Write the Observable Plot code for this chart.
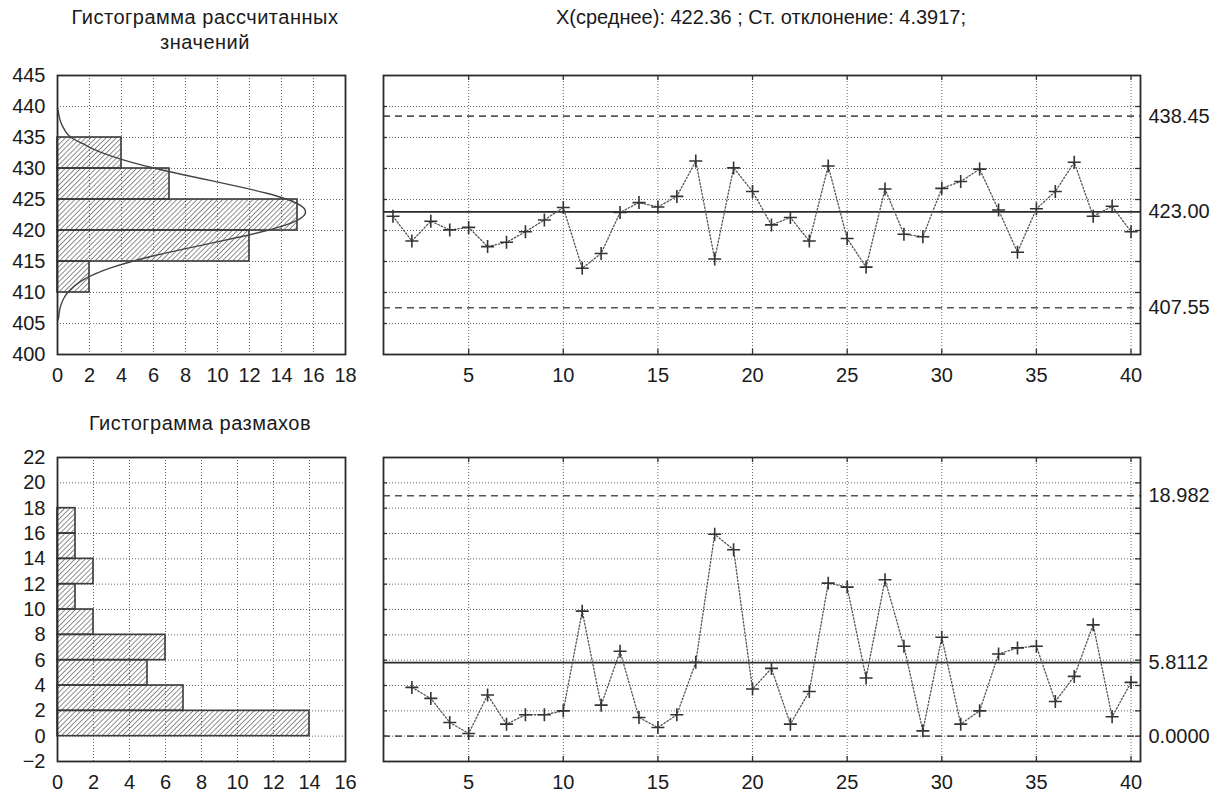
<!DOCTYPE html>
<html><head><meta charset="utf-8">
<script src="https://cdn.jsdelivr.net/npm/d3@7"></script>
<script src="https://cdn.jsdelivr.net/npm/@observablehq/plot@0.6"></script>
<style>
body{margin:0;background:#fff;}
#root{position:relative;width:1226px;height:796px;font-family:"Liberation Sans",Arial,sans-serif;color:#1a1a1a;overflow:hidden;}
.t{position:absolute;font-size:20px;line-height:25px;text-align:center;white-space:nowrap;}
.p{position:absolute;}
</style></head><body>
<svg width="0" height="0" style="position:absolute">
  <defs>
    <pattern id="hatch" patternUnits="userSpaceOnUse" width="3.6" height="3.6" patternTransform="rotate(45)">
      <line x1="0" y1="0" x2="0" y2="3.6" stroke="#444" stroke-width="1.2"/>
    </pattern>
  </defs>
</svg>
<div id="root">
  <div class="t" style="left:55px;top:5px;width:300px;letter-spacing:0.5px">Гистограмма рассчитанных<br>значений</div>
  <div class="t" style="left:461px;top:5px;width:600px">X(среднее): 422.36 ; Ст. отклонение: 4.3917;</div>
  <div class="t" style="left:50px;top:411px;width:300px;letter-spacing:0.5px">Гистограмма размахов</div>
  <div class="p" id="p1" style="left:0;top:60px"></div>
  <div class="p" id="p2" style="left:372px;top:60px"></div>
  <div class="p" id="p3" style="left:0;top:440px"></div>
  <div class="p" id="p4" style="left:372px;top:440px"></div>
</div>
<script>
// ---------- data ----------
// Histogram of computed values (top-left)
const binLo1 = [410, 415, 420, 425, 430];
const binHi1 = [415, 420, 425, 430, 435];
const counts1 = [2, 12, 15, 7, 4];
// fitted normal curve
const curveY = [405.5, 406, 407, 408, 409, 410, 411, 412, 413, 414, 415, 416, 417, 418, 419, 420, 421, 422, 423, 424, 425, 426, 427, 428, 429, 430, 431, 432, 433, 434, 435, 436, 437, 438, 439, 439.7];
const curveV = [0, 0.07, 0.12, 0.22, 0.38, 0.64, 1.03, 1.58, 2.35, 3.37, 4.64, 6.15, 7.86, 9.68, 11.46, 13.08, 14.37, 15.21, 15.5, 15.21, 14.37, 13.08, 11.46, 9.68, 7.86, 6.15, 4.64, 3.37, 2.35, 1.58, 0.85, 0.5, 0.28, 0.14, 0.06, 0];
const xTicks1 = [0, 2, 4, 6, 8, 10, 12, 14, 16, 18];
const yTicks1 = [400, 405, 410, 415, 420, 425, 430, 435, 440, 445];

// Histogram of ranges (bottom-left)
const binLo3 = [0, 2, 4, 6, 8, 10, 12, 14, 16];
const binHi3 = [2, 4, 6, 8, 10, 12, 14, 16, 18];
const counts3 = [14, 7, 5, 6, 2, 1, 2, 1, 1];
const xTicks3 = [0, 2, 4, 6, 8, 10, 12, 14, 16];
const yTicks3 = [-2, 0, 2, 4, 6, 8, 10, 12, 14, 16, 18, 20, 22];

// X-bar chart (top-right)
const xbarValues = [422.3, 418.3, 421.5, 420.1, 420.5, 417.4, 418.1, 419.8, 421.7, 423.7,
  413.9, 416.3, 422.9, 424.5, 423.8, 425.5, 431.2, 415.4, 430.1, 426.3,
  420.9, 422.1, 418.3, 430.4, 418.7, 414.1, 426.7, 419.4, 419.0, 426.8,
  427.9, 429.9, 423.3, 416.5, 423.5, 426.3, 431.0, 422.3, 423.9, 419.8];
const xbarLimits = [438.45, 423.00, 407.55];
const xbarLimitLabels = ["438.45", "423.00", "407.55"];
const xbarGrid = [405, 410, 415, 420, 425, 430, 435, 440];

// Moving range chart (bottom-right), samples 2..40
const rangeValues = [3.85, 2.98, 1.08, 0.21, 3.25, 0.95, 1.69, 1.69, 2.0,
  9.87, 2.45, 6.7, 1.47, 0.68, 1.69, 5.83, 15.94, 14.72, 3.72,
  5.35, 0.95, 3.53, 12.08, 11.77, 4.59, 12.35, 7.1, 0.42, 7.81,
  0.95, 2.0, 6.49, 6.97, 7.1, 2.74, 4.72, 8.79, 1.53, 4.25];
const rangeLimits = [18.982, 5.8112, 0];
const rangeLimitLabels = ["18.982", "5.8112", "0.0000"];
const rangeGrid = [0, 2, 4, 6, 8, 10, 12, 14, 16, 18, 20];

const sampleTicks = [5, 10, 15, 20, 25, 30, 35, 40];

// ---------- styles ----------
const FONT = '"Liberation Sans", Arial, sans-serif';
const baseStyle = {fontSize: "20px", fontFamily: FONT, color: "#1a1a1a", background: "transparent", overflow: "visible"};
const gridStyle = {stroke: "#666", strokeWidth: 1, strokeDasharray: "1,2"};
const frameStyle = {stroke: "#2a2a2a", strokeWidth: 1.8};
const plusSymbol = {
  draw(ctx, size) {
    const r = Math.sqrt(size / Math.PI);
    ctx.moveTo(-r, 0); ctx.lineTo(r, 0);
    ctx.moveTo(0, -r); ctx.lineTo(0, r);
  }
};

// ---------- histograms ----------
function histogram({bins, curve, xDomain, yDomain, xTicks, yTicks, xGrid, yGrid, width, height, m}) {
  const marks = [
    Plot.ruleX(xGrid, {x: d => d, ...gridStyle}),
    Plot.ruleY(yGrid, {y: d => d, ...gridStyle}),
    Plot.rect(bins, {x1: d => 0, x2: "n", y1: "lo", y2: "hi", fill: "url(#hatch)", stroke: "#3a3a3a", strokeWidth: 1.6})
  ];
  if (curve) marks.push(Plot.line(curve, {x: "v", y: "y", curve: "natural", stroke: "#444", strokeWidth: 1.4}));
  marks.push(Plot.frame(frameStyle));
  return Plot.plot({
    width, height,
    marginLeft: m[0], marginRight: m[1], marginTop: m[2], marginBottom: m[3],
    style: baseStyle,
    x: {domain: xDomain, ticks: xTicks, tickSize: 0, tickPadding: 13, label: null},
    y: {domain: yDomain, ticks: yTicks, tickSize: 0, tickPadding: 12, label: null},
    marks
  });
}

const hist1 = binLo1.map((lo, i) => ({lo, hi: binHi1[i], n: counts1[i]}));
const curve1 = curveY.map((y, i) => ({y, v: curveV[i]}));
document.getElementById("p1").append(histogram({
  bins: hist1, curve: curve1, xDomain: [0, 18], yDomain: [400, 445],
  xTicks: xTicks1, yTicks: yTicks1,
  xGrid: xTicks1.slice(1, -1), yGrid: yTicks1.slice(1, -1),
  width: 372, height: 340, m: [57, 27, 15, 46]
}));

const hist3 = binLo3.map((lo, i) => ({lo, hi: binHi3[i], n: counts3[i]}));
document.getElementById("p3").append(histogram({
  bins: hist3, curve: null, xDomain: [0, 16], yDomain: [-2, 22],
  xTicks: xTicks3, yTicks: yTicks3,
  xGrid: xTicks3.slice(1, -1), yGrid: yTicks3.slice(1, -1),
  width: 372, height: 356, m: [57, 27, 17, 35]
}));

// ---------- control charts ----------
function controlChart({pts, yDomain, limits, labels, yGrid, width, height, m}) {
  const innerW = width - m[0] - m[1];
  const innerH = height - m[2] - m[3];
  const tickStyle = {stroke: "#333", strokeWidth: 1.3};
  return Plot.plot({
    width, height,
    marginLeft: m[0], marginRight: m[1], marginTop: m[2], marginBottom: m[3],
    style: baseStyle,
    x: {domain: [0.5, 40.5], ticks: sampleTicks, tickSize: 0, tickPadding: 13, label: null},
    y: {domain: yDomain, axis: "right", ticks: limits,
        tickFormat: d => labels[limits.indexOf(d)], tickSize: 0, tickPadding: 8, label: null},
    marks: [
      Plot.ruleX(sampleTicks, {x: d => d, ...gridStyle}),
      Plot.ruleY(yGrid, {y: d => d, ...gridStyle}),
      Plot.tickX(sampleTicks, {x: d => d, insetTop: innerH - 5, ...tickStyle}),
      Plot.tickX(sampleTicks, {x: d => d, insetBottom: innerH - 5, ...tickStyle}),
      Plot.tickY(yGrid, {y: d => d, insetRight: innerW - 4, ...tickStyle}),
      Plot.tickY(yGrid, {y: d => d, insetLeft: innerW - 5, ...tickStyle}),
      Plot.ruleY([limits[0], limits[2]], {y: d => d, stroke: "#555", strokeWidth: 1.6, strokeDasharray: "7,5"}),
      Plot.ruleY([limits[1]], {y: d => d, stroke: "#2a2a2a", strokeWidth: 1.8}),
      Plot.line(pts, {x: "i", y: "v", stroke: "#555", strokeWidth: 1.3, strokeDasharray: "1.5,2"}),
      Plot.dot(pts, {x: "i", y: "v", symbol: plusSymbol, r: 6.5, fill: "none", stroke: "#333", strokeWidth: 1.6}),
      Plot.frame(frameStyle)
    ]
  });
}

const xbarPts = xbarValues.map((v, k) => ({i: k + 1, v}));
document.getElementById("p2").append(controlChart({
  pts: xbarPts, yDomain: [400, 445], limits: xbarLimits, labels: xbarLimitLabels,
  yGrid: xbarGrid, width: 854, height: 340, m: [11, 86, 15, 46]
}));

const rangePts = rangeValues.map((v, k) => ({i: k + 2, v}));
document.getElementById("p4").append(controlChart({
  pts: rangePts, yDomain: [-2, 22], limits: rangeLimits, labels: rangeLimitLabels,
  yGrid: rangeGrid, width: 854, height: 356, m: [11, 86, 17, 35]
}));
</script>
</body></html>
